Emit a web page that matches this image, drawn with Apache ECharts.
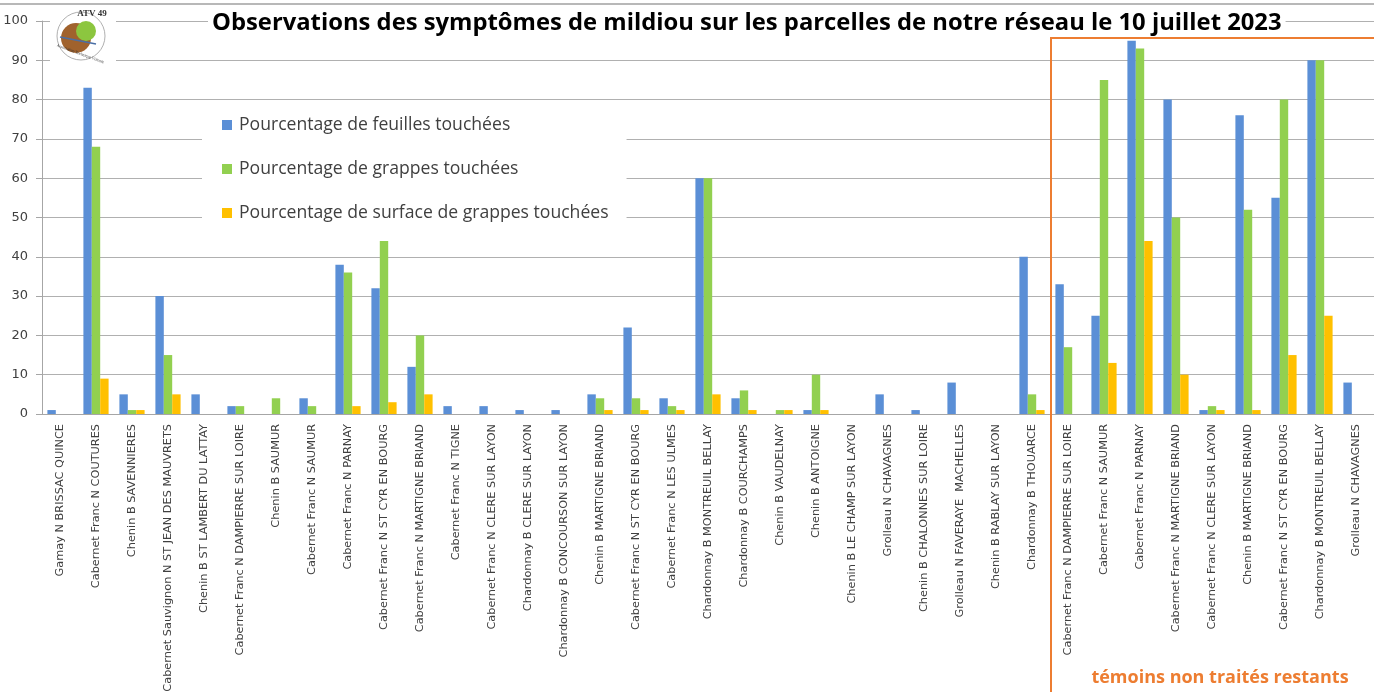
<!DOCTYPE html>
<html>
<head>
<meta charset="utf-8">
<script src="https://cdn.jsdelivr.net/npm/echarts@6/dist/echarts.min.js"></script>
<style>
  html, body { margin: 0; padding: 0; background: #fff; }
  #chart { width: 1374px; height: 692px; }
</style>
</head>
<body>
<div id="chart"></div>
<script>
// parcelles observées
const categories = [
    'Gamay N BRISSAC QUINCE', 'Cabernet Franc N COUTURES', 'Chenin B SAVENNIERES',
    'Cabernet Sauvignon N ST JEAN DES MAUVRETS', 'Chenin B ST LAMBERT DU LATTAY',
    'Cabernet Franc N DAMPIERRE SUR LOIRE', 'Chenin B SAUMUR', 'Cabernet Franc N SAUMUR',
    'Cabernet Franc N PARNAY', 'Cabernet Franc N ST CYR EN BOURG', 'Cabernet Franc N MARTIGNE BRIAND',
    'Cabernet Franc N TIGNE', 'Cabernet Franc N CLERE SUR LAYON', 'Chardonnay B CLERE SUR LAYON',
    'Chardonnay B CONCOURSON SUR LAYON', 'Chenin B MARTIGNE BRIAND', 'Cabernet Franc N ST CYR EN BOURG',
    'Cabernet Franc N LES ULMES', 'Chardonnay B MONTREUIL BELLAY', 'Chardonnay B COURCHAMPS',
    'Chenin B VAUDELNAY', 'Chenin B ANTOIGNE', 'Chenin B LE CHAMP SUR LAYON', 'Grolleau N CHAVAGNES',
    'Chenin B CHALONNES SUR LOIRE', 'Grolleau N FAVERAYE  MACHELLES', 'Chenin B RABLAY SUR LAYON',
    'Chardonnay B THOUARCE',
    // témoins non traités
    'Cabernet Franc N DAMPIERRE SUR LOIRE', 'Cabernet Franc N SAUMUR', 'Cabernet Franc N PARNAY',
    'Cabernet Franc N MARTIGNE BRIAND', 'Cabernet Franc N CLERE SUR LAYON', 'Chenin B MARTIGNE BRIAND',
    'Cabernet Franc N ST CYR EN BOURG', 'Chardonnay B MONTREUIL BELLAY', 'Grolleau N CHAVAGNES'
];

const feuilles = [1, 83, 5, 30, 5, 2, 0, 4, 38, 32, 12, 2, 2, 1, 1, 5, 22, 4, 60, 4, 0, 1, 0, 5, 1, 8, 0, 40,
    33, 25, 95, 80, 1, 76, 55, 90, 8];
const grappes = [0, 68, 1, 15, 0, 2, 4, 2, 36, 44, 20, 0, 0, 0, 0, 4, 4, 2, 60, 6, 1, 10, 0, 0, 0, 0, 0, 5,
    17, 85, 93, 50, 2, 52, 80, 90, 0];
const surface = [0, 9, 1, 5, 0, 0, 0, 0, 2, 3, 5, 0, 0, 0, 0, 1, 1, 1, 5, 1, 1, 1, 0, 0, 0, 0, 0, 1,
    0, 13, 44, 10, 1, 1, 15, 25, 0];

const yTicks = {min: 0, max: 100, interval: 10};

const chart = echarts.init(document.getElementById('chart'));

const option = {
    animation: false,
    backgroundColor: '#fff',
    color: ['#5B8FD6', '#92D050', '#FFC000'],
    title: {
        text: 'Observations des symptômes de mildiou sur les parcelles de notre réseau le 10 juillet 2023',
        left: 208,
        top: 8,
        padding: [3, 4, 5, 4],
        backgroundColor: '#fff',
        textStyle: {
            fontFamily: 'Open Sans',
            fontWeight: 'bold',
            fontSize: 23.8,
            color: '#000'
        }
    },
    legend: {
        orient: 'vertical',
        left: 202,
        top: 105,
        padding: [11, 18, 14, 20],
        itemGap: 26,
        itemWidth: 10,
        itemHeight: 10,
        icon: 'rect',
        backgroundColor: '#fff',
        textStyle: {fontFamily: 'Open Sans', fontSize: 17.6, color: '#404040', padding: [0, 0, 0, 2]},
        data: ['Pourcentage de feuilles touchées', 'Pourcentage de grappes touchées',
            'Pourcentage de surface de grappes touchées']
    },
    grid: {left: 42, right: 0, top: 21, bottom: 278, containLabel: false, outerBoundsMode: 'none'},
    xAxis: {
        type: 'category',
        data: categories,
        axisLine: {lineStyle: {color: '#a6a6a6'}},
        axisTick: {length: 5, lineStyle: {color: '#a6a6a6'}},
        axisLabel: {
            rotate: 90,
            interval: 0,
            margin: 10,
            fontFamily: 'DejaVu Sans',
            fontSize: 11.3,
            color: '#404040'
        }
    },
    yAxis: {
        type: 'value',
        min: yTicks.min,
        max: yTicks.max,
        interval: yTicks.interval,
        axisLine: {show: true, lineStyle: {color: '#a6a6a6'}},
        axisTick: {show: true, length: 6, lineStyle: {color: '#a6a6a6'}},
        axisLabel: {fontFamily: 'DejaVu Sans', fontSize: 13, color: '#404040', margin: 14},
        splitLine: {lineStyle: {color: '#b0b0b0', width: 1.2}}
    },
    series: [
        {name: 'Pourcentage de feuilles touchées', type: 'bar', data: feuilles, barGap: '0%', barCategoryGap: '30%'},
        {name: 'Pourcentage de grappes touchées', type: 'bar', data: grappes},
        {name: 'Pourcentage de surface de grappes touchées', type: 'bar', data: surface}
    ]
};

chart.setOption(option);

// cadre orange autour des témoins non traités
const firstTemoin = 28;
const xa = chart.convertToPixel({xAxisIndex: 0}, firstTemoin - 1);
const xb = chart.convertToPixel({xAxisIndex: 0}, firstTemoin);
const boxLeft = Math.round((xa + xb) / 2) + 1;

chart.setOption({
    graphic: [
        // trait gris en haut
        {type: 'line', shape: {x1: 0, y1: 4, x2: 1374, y2: 4}, style: {stroke: '#a0a0a0', lineWidth: 1.5}, z: 10},
        // logo ATV 49
        {type: 'rect', shape: {x: 50, y: 8, width: 66, height: 60}, style: {fill: '#fff'}, z: 10},
        {type: 'circle', shape: {cx: 81, cy: 36, r: 24}, style: {fill: '#fff', stroke: '#9a9a9a', lineWidth: 0.8}, z: 11},
        {type: 'circle', shape: {cx: 76, cy: 38, r: 15}, style: {fill: '#A0622D'}, z: 12},
        {type: 'circle', shape: {cx: 86, cy: 31, r: 10}, style: {fill: '#8CC63F'}, z: 13},
        {type: 'line', shape: {x1: 60, y1: 37, x2: 96, y2: 44}, style: {stroke: '#4A6FA5', lineWidth: 1.5}, z: 14},
        {type: 'text', x: 92, y: 9, style: {text: 'ATV 49', font: 'bold 9px "Liberation Serif"', fill: '#333', align: 'center'}, z: 14},
        {type: 'text', x: 81, y: 52, rotation: -0.35, style: {text: 'Association Technique Viticole', font: '4px "Liberation Serif"', fill: '#333', align: 'center'}, z: 14},
        // témoins
        {type: 'rect', shape: {x: boxLeft, y: 38, width: 400, height: 700},
            style: {fill: 'none', stroke: '#ED7D31', lineWidth: 2}, z: 20},
        {type: 'text', x: 1220, y: 669, style: {text: 'témoins non traités restants',
            font: 'bold 18px "Open Sans"', fill: '#ED7D31', align: 'center'}, z: 20}
    ]
});
</script>
</body>
</html>
